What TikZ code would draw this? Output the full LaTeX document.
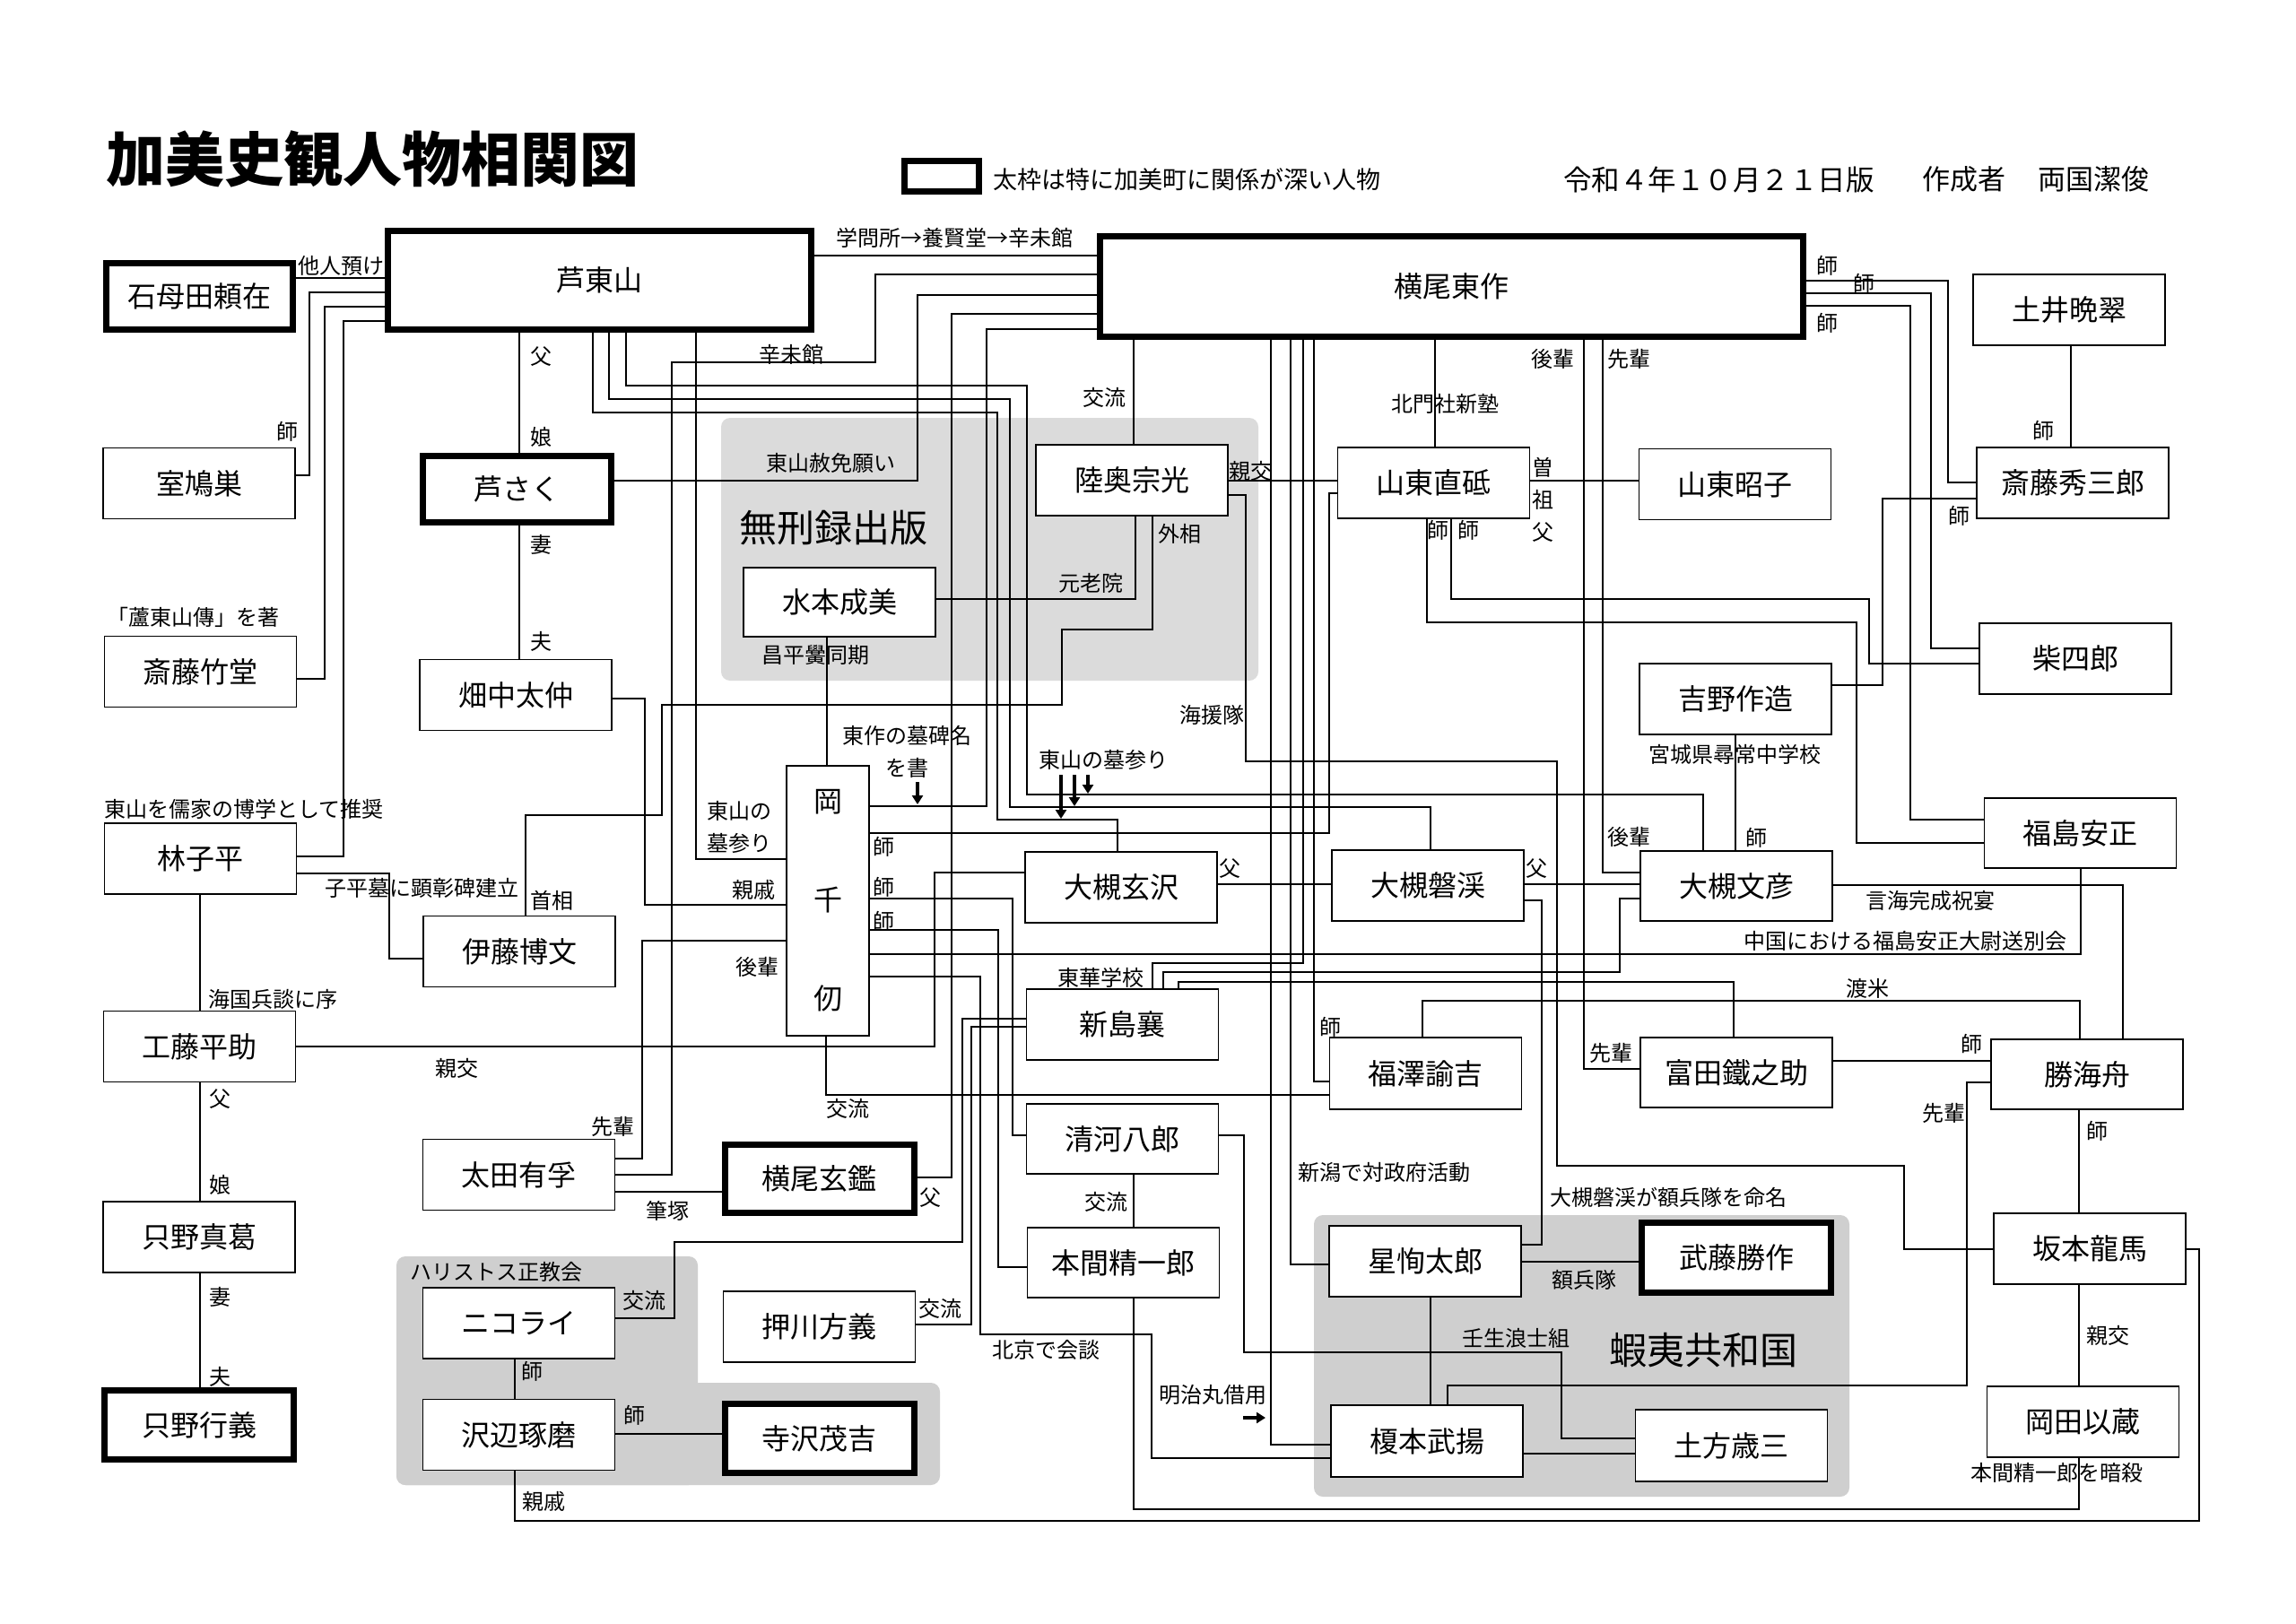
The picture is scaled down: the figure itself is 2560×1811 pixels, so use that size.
\documentclass[tikz,border=0pt]{standalone}
\usepackage{fontspec}
\setmainfont{Noto Sans CJK JP}
\usetikzlibrary{arrows.meta}
\tikzset{
  pbox/.style={draw=black, line width=1.8pt, fill=white, inner sep=0pt, font=\fontsize{32}{38}\selectfont, minimum width=214pt, minimum height=79pt},
  tbox/.style={pbox, line width=7pt, minimum width=211pt, minimum height=76pt},
  lbl/.style={inner sep=0pt, font=\fontsize{24}{28}\selectfont},
  lbltwo/.style={inner sep=0pt, align=center, font=\fontsize{24}{36}\selectfont},
  bigl/.style={inner sep=0pt, font=\fontsize{42}{48}\selectfont},
  conn/.style={line width=1.8pt},
  tarrow/.style={line width=4.5pt, -{Triangle[length=10pt,width=12pt]}},
  grpA/.style={fill=gray!28, rounded corners=10pt},
  grpB/.style={fill=gray!38, rounded corners=10pt},
}
\begin{document}
\begin{tikzpicture}[x=1pt,y=-1pt]
\useasboundingbox[fill=white] (0,0) rectangle (2560,1811);

% groups
\fill[grpA] (804,466) rectangle (1403,759);
\fill[grpB] (442,1401) rectangle (778,1656);
\fill[grpB] (442,1542) rectangle (1048,1656);
\fill[grpB] (1465,1355) rectangle (2062,1669);

% header
\node[inner sep=0pt, anchor=west, font=\fontsize{66}{70}\selectfont\bfseries] (title) at (118,177) {加美史観人物相関図};
\node[draw, line width=7pt, minimum width=83pt, minimum height=34pt, inner sep=0pt] (legend) at (1050,196.5) {};
\node[inner sep=0pt, anchor=west, font=\fontsize{27}{30}\selectfont] (legendtxt) at (1107,200) {太枠は特に加美町に関係が深い人物};
\node[inner sep=0pt, anchor=west, font=\fontsize{31.5}{34}\selectfont] (date) at (1743,200) {令和４年１０月２１日版};
\node[inner sep=0pt, anchor=west, font=\fontsize{31}{34}\selectfont] (author1) at (2143,200) {作成者};
\node[inner sep=0pt, anchor=west, font=\fontsize{31}{34}\selectfont] (author2) at (2272,200) {両国潔俊};

% persons
\node[tbox, minimum width=208pt, minimum height=74pt] (ishimoda) at (222.5,330.5) {石母田頼在};
\node[tbox, minimum width=472pt, minimum height=110pt] (ashitozan) at (668.5,312.5) {芦東山};
\node[tbox, minimum width=784pt, minimum height=112pt] (yokoo) at (1618.5,319.5) {横尾東作};
\node[pbox] (shitsu) at (222,539) {室鳩巣};
\node[tbox, minimum width=210pt, minimum height=74pt] (ashisaku) at (576.5,545.5) {芦さく};
\node[pbox] (chikudo) at (223.5,749) {斎藤竹堂};
\node[pbox] (hatanaka) at (575,775) {畑中太仲};
\node[pbox] (hayashi) at (223.5,957.5) {林子平};
\node[pbox] (ito) at (579,1061) {伊藤博文};
\node[pbox] (kudo) at (222.5,1167) {工藤平助};
\node[pbox] (makuzu) at (222,1379.5) {只野真葛};
\node[tbox, minimum height=77pt] (yukiyoshi) at (222,1589) {只野行義};
\node[pbox] (ota) at (578.5,1310) {太田有孚};
\node[tbox] (genkan) at (913.5,1314.5) {横尾玄鑑};
\node[pbox] (nikolai) at (578.5,1475.5) {ニコライ};
\node[pbox] (sawabe) at (578.5,1600) {沢辺琢磨};
\node[pbox] (oshikawa) at (913.5,1479.5) {押川方義};
\node[tbox, minimum height=77pt] (terasawa) at (913.5,1604) {寺沢茂吉};
\node[pbox, minimum height=77pt] (mizumoto) at (936,671.5) {水本成美};
\node[pbox] (mutsu) at (1262,535.5) {陸奥宗光};
\node[pbox, minimum width=92pt, minimum height=301pt, align=center, font=\fontsize{32}{110}\selectfont] (oka) at (923,1004.5) {岡\\千\\仞};
\node[pbox] (gentaku) at (1250,989.5) {大槻玄沢};
\node[pbox] (niijima) at (1251.5,1142.5) {新島襄};
\node[pbox, minimum height=78pt] (kiyokawa) at (1251.5,1270) {清河八郎};
\node[pbox, minimum height=78pt] (honma) at (1252.5,1408) {本間精一郎};
\node[pbox] (sando) at (1598.5,538.5) {山東直砥};
\node[pbox] (akiko) at (1934.5,540) {山東昭子};
\node[pbox] (bankei) at (1592,987.5) {大槻磐渓};
\node[pbox, minimum height=78pt] (fumihiko) at (1936,988) {大槻文彦};
\node[pbox] (yoshino) at (1935,779.5) {吉野作造};
\node[pbox, minimum height=80pt] (fukuzawa) at (1589.5,1197) {福澤諭吉};
\node[pbox, minimum height=78pt] (tomita) at (1936,1196) {富田鐵之助};
\node[pbox] (hoshi) at (1589,1406.5) {星恂太郎};
\node[tbox, minimum height=78pt] (muto) at (1936,1402.5) {武藤勝作};
\node[pbox, minimum height=80pt] (enomoto) at (1591,1607) {榎本武揚};
\node[pbox, minimum height=80pt] (hijikata) at (1930.5,1612) {土方歳三};
\node[pbox] (doi) at (2307,345.5) {土井晩翠};
\node[pbox] (shuzaburo) at (2311,538.5) {斎藤秀三郎};
\node[pbox] (shiba) at (2314,734.5) {柴四郎};
\node[pbox, minimum height=78pt] (fukushima) at (2319.5,929) {福島安正};
\node[pbox, minimum height=78pt] (katsu) at (2327,1198) {勝海舟};
\node[pbox] (sakamoto) at (2330,1392.5) {坂本龍馬};
\node[pbox] (okada) at (2322.5,1585.5) {岡田以蔵};

% connectors
\begin{scope}[conn]
\draw (ishimoda.east |- 0,310) -- (ashitozan.west |- 0,310);
\draw (ashitozan.west |- 0,326) -| (345,530) -- (shitsu.east |- 0,530);
\draw (ashitozan.west |- 0,342) -| (362,757) -- (chikudo.east |- 0,757);
\draw (ashitozan.west |- 0,358) -| (383,955) -- (hayashi.east |- 0,955);
\draw (579,0 |- ashitozan.south) -- (579,0 |- ashisaku.north);
\draw (579,0 |- ashisaku.south) -- (579,0 |- hatanaka.north);
\draw (661,0 |- ashitozan.south) |- (1112,460) |- (1246,914) -- (1246,0 |- gentaku.north);
\draw (679,0 |- ashitozan.south) |- (1126,445) |- (1595,900) -- (1595,0 |- bankei.north);
\draw (698,0 |- ashitozan.south) |- (1145,430) |- (1899,886) -- (1899,0 |- fumihiko.north);
\draw (776,0 |- ashitozan.south) |- (oka.west |- 0,958);
\draw (ashitozan.east |- 0,285) -- (yokoo.west |- 0,285);
\draw (yokoo.west |- 0,306) -| (976,404) -| (749,1310) -- (ota.east |- 0,1310);
\draw (yokoo.west |- 0,329) -| (1023,536) -- (ashisaku.east |- 0,536);
\draw (yokoo.west |- 0,350) -| (1061,1313) -- (genkan.east |- 0,1313);
\draw (yokoo.west |- 0,367) -| (1100,899) -- (oka.east |- 0,899);
\draw (1264,0 |- yokoo.south) -- (1264,0 |- mutsu.north);
\draw (1417,0 |- yokoo.south) |- (enomoto.west |- 0,1611);
\draw (1439,0 |- yokoo.south) |- (hoshi.west |- 0,1410);
\draw (1453,0 |- yokoo.south) |- (1285,1074) -- (1285,0 |- niijima.north);
\draw (1465,0 |- yokoo.south) |- (fukuzawa.west |- 0,1206);
\draw (1600,0 |- yokoo.south) -- (1600,0 |- sando.north);
\draw (1766,0 |- yokoo.south) |- (tomita.west |- 0,1192);
\draw (1787,0 |- yokoo.south) |- (fumihiko.west |- 0,973);
\draw (yokoo.east |- 0,313) -| (2172,538) -- (shuzaburo.west |- 0,538);
\draw (yokoo.east |- 0,327) -| (2153,723) -- (shiba.west |- 0,723);
\draw (yokoo.east |- 0,341) -| (2130,914) -- (fukushima.west |- 0,914);
\draw (2309,0 |- doi.south) -- (2309,0 |- shuzaburo.north);
\draw (shuzaburo.west |- 0,556) -| (2099,764) -- (yoshino.east |- 0,764);
\draw (sando.east |- 0,536) -- (akiko.west |- 0,536);
\draw (mutsu.east |- 0,536) -- (sando.west |- 0,536);
\draw (mutsu.east |- 0,552) -| (1389,849) -| (1736,1300) -| (2123,1393) -- (sakamoto.west |- 0,1393);
\draw (1266,0 |- mutsu.south) |- (mizumoto.east |- 0,668);
\draw (1285,0 |- mutsu.south) |- (1184,702) |- (738,786) |- (586,909) -- (586,0 |- ito.north);
\draw (922,0 |- mizumoto.south) -- (922,0 |- oka.north);
\draw (hatanaka.east |- 0,779) -| (719,1009) -- (oka.west |- 0,1009);
\draw (oka.west |- 0,1049) -| (716,1292) -- (ota.east |- 0,1292);
\draw (ota.east |- 0,1329) -- (genkan.west |- 0,1329);
\draw (hayashi.east |- 0,974) -| (434,1069) -- (ito.west |- 0,1069);
\draw (223,0 |- hayashi.south) -- (223,0 |- kudo.north);
\draw (223,0 |- kudo.south) -- (223,0 |- makuzu.north);
\draw (223,0 |- makuzu.south) -- (223,0 |- yukiyoshi.north);
\draw (kudo.east |- 0,1167) -| (1042,973) -- (gentaku.west |- 0,973);
\draw (oka.east |- 0,929) -| (1482,550) -- (sando.west |- 0,550);
\draw (oka.east |- 0,1002) -| (1129,1266) -- (kiyokawa.west |- 0,1266);
\draw (oka.east |- 0,1037) -| (1113,1413) -- (honma.west |- 0,1413);
\draw (oka.east |- 0,1064) -| (2320,0 |- fukushima.south);
\draw (oka.east |- 0,1089) -| (1093,1488) -| (1284,1626) -- (enomoto.west |- 0,1626);
\draw (921,0 |- oka.south) |- (fukuzawa.west |- 0,1221);
\draw (nikolai.east |- 0,1470) -| (752,1385) -| (1073,1136) -- (niijima.west |- 0,1136);
\draw (oshikawa.east |- 0,1477) -| (1083,1145) -- (niijima.west |- 0,1145);
\draw (574,0 |- nikolai.south) -- (574,0 |- sawabe.north);
\draw (sawabe.east |- 0,1599) -- (terasawa.west |- 0,1599);
\draw (574,0 |- sawabe.south) |- (2452,1696) |- (sakamoto.east |- 0,1393);
\draw (gentaku.east |- 0,986) -- (bankei.west |- 0,986);
\draw (bankei.east |- 0,986) -- (fumihiko.west |- 0,986);
\draw (bankei.east |- 0,1004) -| (1719,1388) -- (hoshi.east |- 0,1388);
\draw (1935,0 |- yoshino.south) -- (1935,0 |- fumihiko.north);
\draw (fumihiko.east |- 0,987) -| (2367,0 |- katsu.north);
\draw (1297,0 |- niijima.north) |- (1806,1084) |- (fumihiko.west |- 0,1002);
\draw (1314,0 |- niijima.north) |- (1933,1095) -- (1933,0 |- tomita.north);
\draw (1586,0 |- fukuzawa.north) |- (2319,1116) -- (2319,0 |- katsu.north);
\draw (tomita.east |- 0,1183) -- (katsu.west |- 0,1183);
\draw (katsu.west |- 0,1207) -| (2193,1545) -| (1614,0 |- enomoto.north);
\draw (2318,0 |- katsu.south) -- (2318,0 |- sakamoto.north);
\draw (2318,0 |- sakamoto.south) -- (2318,0 |- okada.north);
\draw (2318,0 |- okada.south) |- (1264,1683) -- (1264,0 |- honma.south);
\draw (1264,0 |- kiyokawa.south) -- (1264,0 |- honma.north);
\draw (kiyokawa.east |- 0,1266) -| (1387,1508) -| (1741,1604) -- (hijikata.west |- 0,1604);
\draw (hoshi.east |- 0,1407) -- (muto.west |- 0,1407);
\draw (1595,0 |- hoshi.south) -- (1595,0 |- enomoto.north);
\draw (enomoto.east |- 0,1621) -- (hijikata.west |- 0,1621);
\draw (shiba.west |- 0,740) -| (2084,668) -| (1618,0 |- sando.south);
\draw (fukushima.west |- 0,940) -| (2070,694) -| (1591,0 |- sando.south);
\end{scope}

% bold arrows
\coordinate (a1s) at (1183,864); \coordinate (a1e) at (1183,913);
\coordinate (a2s) at (1198,864); \coordinate (a2e) at (1198,899);
\coordinate (a3s) at (1213,864); \coordinate (a3e) at (1213,885);
\coordinate (a4s) at (1023,872); \coordinate (a4e) at (1023,897);
\coordinate (a5s) at (1386,1581); \coordinate (a5e) at (1411,1581);
\draw[tarrow] (a1s) -- (a1e);
\draw[tarrow] (a2s) -- (a2e);
\draw[tarrow] (a3s) -- (a3e);
\draw[tarrow] (a4s) -- (a4e);
\draw[tarrow] (a5s) -- (a5e);

% labels
\node[lbl] (t1) at (380,296) {他人預け};
\node[lbl] (t2) at (1064,265) {学問所→養賢堂→辛未館};
\node[lbl] (t3) at (882,395) {辛未館};
\node[lbl] (t4) at (926,516) {東山赦免願い};
\node[lbl] (t5) at (603,398) {父};
\node[lbl] (t6) at (603,487) {娘};
\node[lbl] (t7) at (603,607) {妻};
\node[lbl] (t8) at (603,715) {夫};
\node[lbl] (t9) at (320,481) {師};
\node[lbl] (t10) at (215.5,688) {「蘆東山傳」を著};
\node[lbl, anchor=west] (t11) at (116,902) {東山を儒家の博学として推奨};
\node[lbl] (t12) at (470,990) {子平墓に顕彰碑建立};
\node[lbl] (t13) at (615,1004) {首相};
\node[lbl] (t14) at (304,1114) {海国兵談に序};
\node[lbl] (t15) at (509,1191) {親交};
\node[lbl] (t16) at (245,1226) {父};
\node[lbl] (t17) at (245,1321) {娘};
\node[lbl] (t18) at (245,1446) {妻};
\node[lbl] (t19) at (245,1535) {夫};
\node[lbl] (t20) at (683,1256) {先輩};
\node[lbl] (t21) at (744,1350) {筆塚};
\node[lbl] (t22) at (1037,1336) {父};
\node[lbl] (t23) at (945,1236) {交流};
\node[lbl] (t24) at (718,1450) {交流};
\node[lbl] (t25) at (1048,1459) {交流};
\node[lbl] (t26) at (593,1529) {師};
\node[lbl] (t27) at (707,1578) {師};
\node[lbl] (t28) at (606,1674) {親戚};
\node[lbl] (t29) at (553,1418) {ハリストス正教会};
\node[lbl] (t30) at (1233,1340) {交流};
\node[lbl] (t31) at (1166,1505) {北京で会談};
\node[lbl] (t32) at (1352,1555) {明治丸借用};
\node[lbl] (t33) at (1543,1307) {新潟で対政府活動};
\node[lbl] (t34) at (1860,1335) {大槻磐渓が額兵隊を命名};
\node[lbl] (t35) at (1766,1427) {額兵隊};
\node[lbl] (t36) at (1690,1492) {壬生浪士組};
\node[bigl] (t37) at (1899,1506) {蝦夷共和国};
\node[bigl] (t38) at (929,589) {無刑録出版};
\node[lbl] (t39) at (1351,797) {海援隊};
\node[lbl] (t40) at (1230,847) {東山の墓参り};
\node[lbltwo] (t41) at (1011,838) {東作の墓碑名\\を書};
\node[lbltwo] (t42) at (824,922) {東山の\\墓参り};
\node[lbl] (t43) at (840,992) {親戚};
\node[lbl] (t44) at (844,1078) {後輩};
\node[lbl] (t45) at (985,944) {師};
\node[lbl] (t46) at (985,989) {師};
\node[lbl] (t47) at (985,1027) {師};
\node[lbl] (t48) at (909,730) {昌平黌同期};
\node[lbl] (t49) at (1216,650) {元老院};
\node[lbl] (t50) at (1315,595) {外相};
\node[lbl] (t51) at (1231,443) {交流};
\node[lbl] (t52) at (1611,450) {北門社新塾};
\node[lbl] (t53) at (1731,400) {後輩};
\node[lbl] (t54) at (1816,400) {先輩};
\node[lbltwo] (t55) at (1720,557) {曽\\祖\\父};
\node[lbl] (t56) at (1394,525) {親交};
\node[lbl] (t57) at (1603,591) {師};
\node[lbl] (t58) at (1637,591) {師};
\node[lbl] (t59) at (2037,296) {師};
\node[lbl] (t60) at (2078,316) {師};
\node[lbl] (t61) at (2037,360) {師};
\node[lbl] (t62) at (2278,480) {師};
\node[lbl] (t63) at (2184,575) {師};
\node[lbl] (t64) at (1934,841) {宮城県尋常中学校};
\node[lbl] (t65) at (1958,934) {師};
\node[lbl] (t66) at (1816,933) {後輩};
\node[lbl] (t67) at (1371,969) {父};
\node[lbl] (t68) at (1713,969) {父};
\node[lbl] (t69) at (2152,1004) {言海完成祝宴};
\node[lbl] (t70) at (2124,1049) {中国における福島安正大尉送別会};
\node[lbl] (t71) at (2082,1102) {渡米};
\node[lbl] (t72) at (2198,1164) {師};
\node[lbl] (t73) at (1227,1090) {東華学校};
\node[lbl] (t74) at (1483,1145) {師};
\node[lbl] (t75) at (1796,1174) {先輩};
\node[lbl] (t76) at (2167,1241) {先輩};
\node[lbl] (t77) at (2338,1261) {師};
\node[lbl] (t78) at (2350,1489) {親交};
\node[lbl] (t79) at (2293,1642) {本間精一郎を暗殺};
\end{tikzpicture}
\end{document}
